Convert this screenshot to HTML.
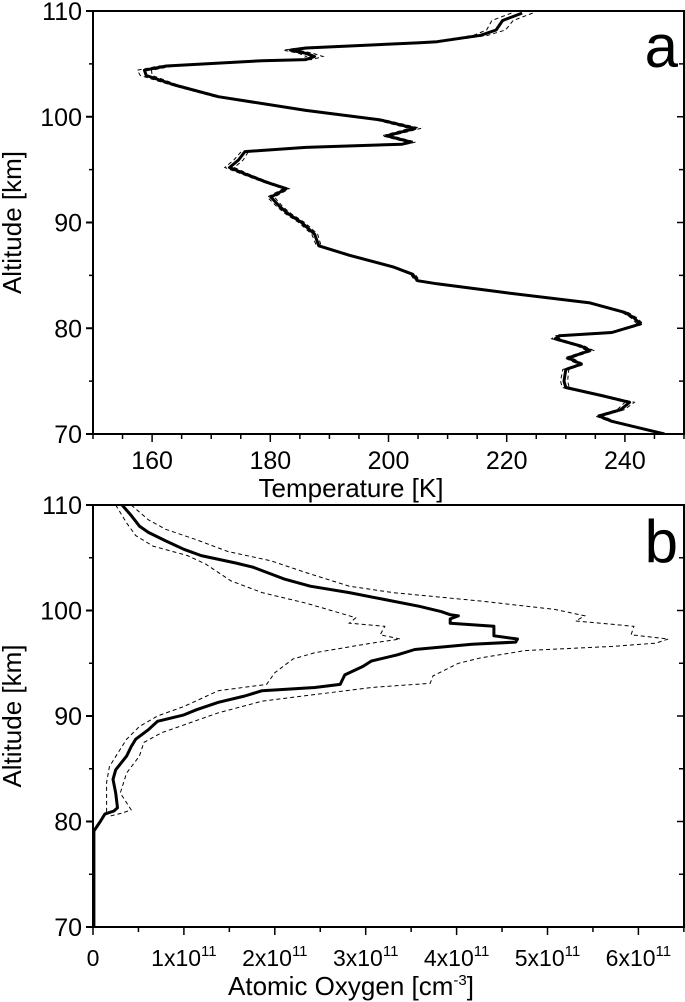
<!DOCTYPE html>
<html><head><meta charset="utf-8"><style>
html,body{margin:0;padding:0;background:#fff;}
svg{display:block;font-family:"Liberation Sans",Arial,sans-serif;}
</style></head><body>
<svg id="fig" width="685" height="1002"></svg>
<script>
// Panel a: temperature profile
const altA=[109.8,109.1,108.2,107.7,107.1,107.0,106.5,106.3,106.0,105.7,105.4,105.3,104.8,104.4,103.9,103.0,101.9,100.6,99.7,98.9,98.2,97.6,97.4,97.1,96.7,95.9,95.2,94.6,93.8,93.2,92.4,91.5,90.8,90.0,88.9,87.8,86.9,85.8,85.1,84.5,84.2,83.4,82.4,81.5,81.0,80.4,79.6,79.3,79.0,78.3,77.9,77.2,76.6,76.1,75.0,74.4,73.6,73.0,72.3,71.7,71.2,70.0];
const tempA=[222.6,219.3,218.2,215.6,208.2,205.3,186,183.4,186,187.5,186,178.6,162.4,158.7,159,163.8,171.2,186,198.6,204.5,199.7,203.8,202.3,186,175.7,174.6,173.1,175.7,179.4,182.7,180.1,181.6,183.1,185.3,187.5,188.2,193.4,200.8,204.1,204.9,208.2,219.3,234.1,240,241.5,242.6,237.8,228.9,228.2,232.6,234.1,230.4,232.6,230,229.7,230,236.3,240.8,239.3,235.6,237.8,246.7];
const errA=[1.8,1.8,1.6,1.2,0.8,0.8,1.2,1.2,1.2,1.4,1.0,0.8,1.2,1.2,1.0,0.6,0.6,0.6,0.8,1.0,0.8,0.8,0.6,0.6,0.6,0.8,0.8,0.6,0.5,0.5,0.6,0.5,0.5,0.5,0.5,0.4,0.4,0.4,0.4,0.4,0.4,0.4,0.4,0.5,0.5,0.5,0.5,0.6,0.6,0.6,0.6,0.6,0.5,0.5,0.6,0.6,0.5,0.8,0.6,0.6,0.5,0.5];
const tickA=[160,180,200,220,240];
// Panel b: atomic oxygen (units of 1e11 cm^-3)
const altB=[110,109,108,107.4,106.6,105.8,105.2,104.5,104.1,103,102.3,101.7,101.2,100.4,99.9,99.6,99.5,99.2,98.8,98.5,98.0,97.6,97.3,97.0,96.8,96.3,95.8,95.2,94.7,93.9,93.0,92.7,92.4,91.9,91.3,90.6,90.1,89.5,88.7,87.8,87.1,86.2,84.9,84.0,82.7,81.3,81.0,80.7,80.0,79.1,70];
const oxB=[0.32,0.42,0.51,0.61,0.80,1.0,1.19,1.57,1.76,2.1,2.39,2.82,3.11,3.59,3.83,3.93,4.02,3.93,3.93,4.41,4.41,4.41,4.67,4.65,4.17,3.54,3.35,3.06,2.97,2.77,2.72,2.44,1.86,1.67,1.38,1.14,1.0,0.71,0.61,0.47,0.42,0.37,0.25,0.22,0.25,0.27,0.23,0.13,0.08,0.01,0.01];
const altHi=[110,108.6,107.7,106.7,105.6,104.7,103.6,102.3,101.7,100.9,100.1,99.5,99.0,98.5,97.7,97.3,96.9,96.6,96.2,95.5,95.0,93.8,93.1,92.7,91.4,90.3,89.0,88.4,87.5,86.2,84.6,82.7,81.1,80.8,80.5];
const oxHi=[0.42,0.61,0.80,1.14,1.48,1.96,2.34,2.82,3.30,4.26,5.08,5.41,5.31,5.95,5.92,6.33,6.19,5.71,4.75,4.26,4.02,3.74,3.71,3.06,1.86,1.38,0.95,0.75,0.56,0.51,0.37,0.30,0.42,0.32,0.18];
const altLo=[110,108.3,107.1,106.1,105.2,104.4,102.8,101.7,100.7,100.1,99.5,99.3,98.8,98.5,97.7,97.3,96.9,96.0,95.4,94.1,93.0,92.4,90.9,90.0,89.0,87.8,85.2,83.7,81.0,80.7];
const oxLo=[0.25,0.37,0.47,0.66,1.04,1.24,1.52,1.86,2.34,2.58,2.82,2.89,2.82,3.21,3.16,3.38,3.06,2.44,2.2,2.0,1.91,1.38,1.0,0.71,0.51,0.37,0.18,0.15,0.15,0.13];
const tickB=[0,1,2,3,4,5,6];
const tickY=[70,80,90,100,110];

const NS="http://www.w3.org/2000/svg";
const svg=document.getElementById('fig');
function mk(tag,attrs,parent){const e=document.createElementNS(NS,tag);for(const k in attrs)e.setAttribute(k,attrs[k]);(parent||svg).appendChild(e);return e;}
const L=93,R=684;
const xA=t=>L+(t-150)*(R-L)/100;
const yA=a=>11+(110-a)*(434-11)/40;
const xB=o=>L+o*90.9;
const yB=a=>505+(110-a)*(927-505)/40;

function pathD(xs,ys,fx,fy){return xs.map((v,i)=>(i?'L':'M')+fx(v).toFixed(1)+','+fy(ys[i]).toFixed(1)).join('');}

function frame(top,bot,fy,name){
  const g=mk('g',{});
  
  
  mk('rect',{x:L,y:top,width:R-L,height:bot-top,fill:'none',stroke:'#000','stroke-width':2},g);
  tickY.forEach(a=>{
    mk('line',{x1:L-7,x2:L,y1:fy(a),y2:fy(a),stroke:'#000','stroke-width':2},g);
    const t=mk('text',{x:L-11,y:fy(a)+9,'text-anchor':'end','font-size':25},g);
    t.textContent=a;
    
    
    if(a>70){mk('line',{x1:L-4,x2:L,y1:fy(a-5),y2:fy(a-5),stroke:'#000','stroke-width':1.5},g);
      mk('line',{x1:R-5,x2:R,y1:fy(a-5),y2:fy(a-5),stroke:'#000','stroke-width':1.5},g);}
    mk('line',{x1:R-7,x2:R,y1:fy(a),y2:fy(a),stroke:'#000','stroke-width':1.5},g);
  });
  const yt=mk('text',{x:0,y:0,'text-anchor':'middle','font-size':26,transform:`translate(21,${(top+bot)/2}) rotate(-90)`},g);
  yt.textContent='Altitude [km]';
  
  
  return g;
}

// Panel a
const ga=frame(11,434,yA,'panel-a');
for(let t=150;t<=250;t+=5){
  const major=(t%20===0);
  mk('line',{x1:xA(t),x2:xA(t),y1:434,y2:434+(major?8:5),stroke:'#000','stroke-width':1.5},ga);
}
tickA.forEach(t=>{const e=mk('text',{x:xA(t),y:469,'text-anchor':'middle','font-size':25},ga);e.textContent=t;
  
  });
const xtA=mk('text',{x:351,y:497,'text-anchor':'middle','font-size':26},ga);xtA.textContent='Temperature [K]';


const la=mk('text',{x:678,y:67,'text-anchor':'end','font-size':60},ga);la.textContent='a';


const clipA=mk('clipPath',{id:'ca'});mk('rect',{x:L,y:11,width:R-L,height:423},clipA);
const hiA=mk('path',{d:pathD(tempA.map((v,i)=>v+errA[i]),altA,xA,yA),fill:'none',stroke:'#000','stroke-width':1,'stroke-dasharray':'4,3','clip-path':'url(#ca)'});


const loA=mk('path',{d:pathD(tempA.map((v,i)=>v-errA[i]),altA,xA,yA),fill:'none',stroke:'#000','stroke-width':1,'stroke-dasharray':'4,3','clip-path':'url(#ca)'});


const mA=mk('path',{d:pathD(tempA,altA,xA,yA),fill:'none',stroke:'#000','stroke-width':3,'stroke-linejoin':'round','clip-path':'url(#ca)'});



// Panel b
const gb=frame(505,927,yB,'panel-b');
for(let o=0;o<=6.5;o+=0.5){
  const major=(Math.abs(o-Math.round(o))<1e-6);
  mk('line',{x1:xB(o),x2:xB(o),y1:927,y2:927+(major?8:5),stroke:'#000','stroke-width':1.5},gb);
}
tickB.forEach(o=>{
  const e=mk('text',{x:xB(o),y:966,'text-anchor':'middle','font-size':23},gb);
  
  
  if(o===0){e.textContent='0';}
  else{e.textContent=o+'x10';const s=mk('tspan',{'font-size':15,dy:-10},e);s.textContent='11';}
});
const xtB=mk('text',{x:351,y:995,'text-anchor':'middle','font-size':26},gb);
xtB.textContent='Atomic Oxygen [cm';
const sup=mk('tspan',{'font-size':15,dy:-10},xtB);sup.textContent='-3';
const cl=mk('tspan',{dy:10},xtB);cl.textContent=']';


const lb=mk('text',{x:678,y:562,'text-anchor':'end','font-size':60},gb);lb.textContent='b';


const hiB=mk('path',{d:pathD(oxHi,altHi,xB,yB),fill:'none',stroke:'#000','stroke-width':1,'stroke-dasharray':'4,3'});


const loB=mk('path',{d:pathD(oxLo,altLo,xB,yB),fill:'none',stroke:'#000','stroke-width':1,'stroke-dasharray':'4,3'});


const mB=mk('path',{d:pathD(oxB,altB,xB,yB),fill:'none',stroke:'#000','stroke-width':3,'stroke-linejoin':'round'});


</script>
</body></html>
